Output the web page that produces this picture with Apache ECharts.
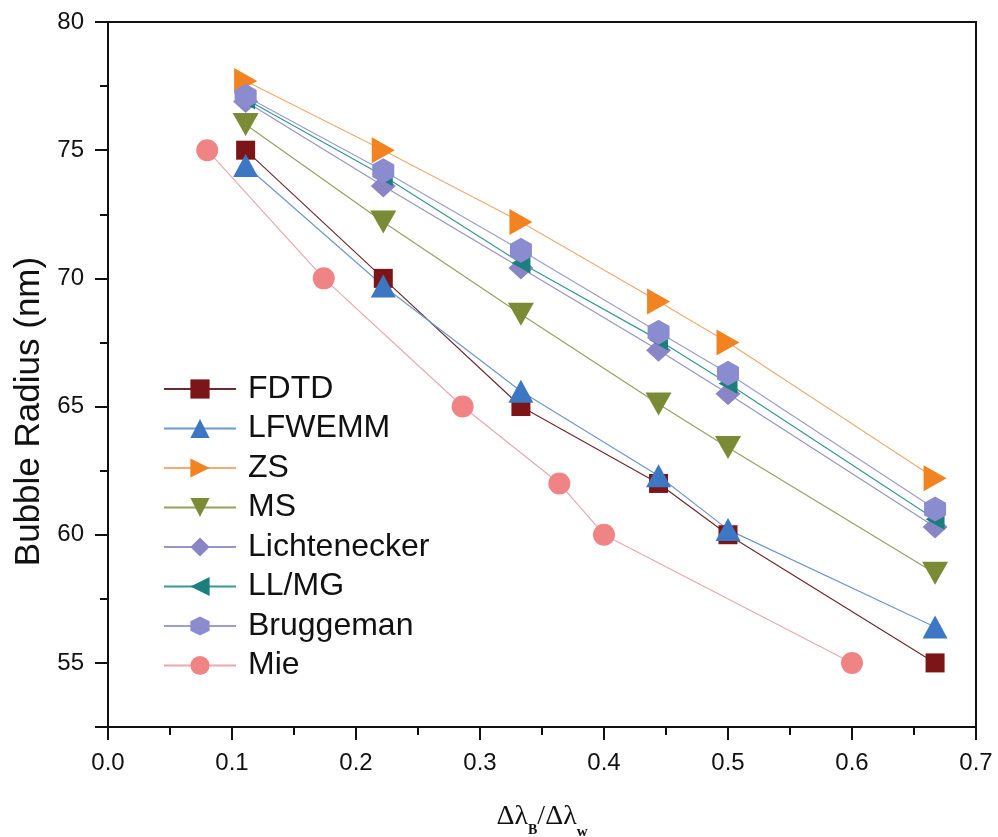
<!DOCTYPE html>
<html>
<head>
<meta charset="utf-8">
<script src="https://cdn.jsdelivr.net/npm/echarts@6/dist/echarts.min.js"></script>
<style>
  html, body { margin: 0; padding: 0; background: #fff; }
  #chart { width: 998px; height: 837px; }
</style>
</head>
<body>
<div id="chart"></div>
<script>
// Δλ_B/Δλ_w positions shared by the effective-medium models and FDTD
const ratio = [0.111, 0.222, 0.333, 0.444, 0.5, 0.667];
// Mie theory is evaluated at its own ratios
const mieRatio = [0.08, 0.174, 0.286, 0.364, 0.4, 0.6];

// Bubble radius (nm) for each method
const fdtd         = [75, 70, 65, 62, 60, 55];
const lfwemm       = [74.4, 69.7, 65.6, 62.3, 60.2, 56.4];
const zs           = [77.7, 75.0, 72.2, 69.1, 67.5, 62.2];
const ms           = [76.0, 72.2, 68.6, 65.1, 63.4, 58.5];
const lichtenecker = [76.9, 73.6, 70.4, 67.2, 65.5, 60.3];
const llmg         = [77.0, 74.0, 70.6, 67.6, 65.9, 60.6];
const bruggeman    = [77.1, 74.2, 71.1, 67.9, 66.3, 61.0];
const mie          = [75, 70, 65, 62, 60, 55];

// Axis ticks
const xTicks = [0.0, 0.1, 0.2, 0.3, 0.4, 0.5, 0.6, 0.7];
const yTicks = [55, 60, 65, 70, 75, 80];

const SANS = '"Liberation Sans", Arial, Helvetica, sans-serif';
const SERIF = '"Liberation Serif", "Times New Roman", serif';
const HEXAGON = 'path://M0,-1 L0.866,-0.5 L0.866,0.5 L0,1 L-0.866,0.5 L-0.866,-0.5 Z';

function pairs(xs, ys) { return xs.map((x, i) => [x, ys[i]]); }

function makeSeries(name, xs, ys, marker, line, symbol, size, rotate) {
  return {
    name: name,
    type: 'line',
    data: pairs(xs, ys),
    symbol: symbol,
    symbolSize: size,
    symbolRotate: rotate || 0,
    showSymbol: true,
    lineStyle: { color: line, width: 1.2 },
    itemStyle: { color: marker, borderWidth: 0 },
    emphasis: { disabled: true }
  };
}

const series = [
  makeSeries('FDTD', ratio, fdtd, '#7b1518', '#6e2a2e', 'rect', [19, 19]),
  makeSeries('LFWEMM', ratio, lfwemm, '#3b77c2', '#6f98cc', 'triangle', [25, 23]),
  makeSeries('ZS', ratio, zs, '#f28321', '#f0ac72', 'triangle', [26, 23], -90),
  makeSeries('MS', ratio, ms, '#7a8a35', '#98a062', 'triangle', [26, 23], 180),
  makeSeries('Lichtenecker', ratio, lichtenecker, '#8a86c6', '#9794c6', 'diamond', [25, 23]),
  makeSeries('LL/MG', ratio, llmg, '#1a7f7d', '#3a9795', 'triangle', [21, 19], 90),
  makeSeries('Bruggeman', ratio, bruggeman, '#8b8bd0', '#9d9dcf', HEXAGON, [22, 25]),
  makeSeries('Mie', mieRatio, mie, '#f08484', '#e9a9ae', 'circle', 22)
];

const chart = echarts.init(document.getElementById('chart'), null, { renderer: 'canvas' });

chart.setOption({
  animation: false,
  backgroundColor: '#ffffff',
  grid: {
    left: 108, top: 22, right: 22, bottom: 110,
    outerBoundsMode: 'none',
    containLabel: false,
    show: true, borderColor: '#111', borderWidth: 2, backgroundColor: 'transparent'
  },
  legend: {
    orient: 'vertical',
    left: 163,
    top: 373,
    padding: 0,
    itemWidth: 72,
    itemHeight: 24,
    itemGap: 7.5,
    selectedMode: false,
    textStyle: { fontFamily: SANS, fontSize: 32, lineHeight: 29, color: '#111', padding: [0, 0, 0, 7] },
    data: series.map(s => s.name)
  },
  xAxis: {
    type: 'value',
    min: xTicks[0],
    max: xTicks[xTicks.length - 1],
    interval: 0.1,
    name: '{a|Δλ}{b|B}{a|/Δλ}{c|w}',
    nameLocation: 'middle',
    nameGap: 66,
    nameTextStyle: {
      rich: {
        a: { fontFamily: SERIF, fontSize: 28, color: '#111' },
        b: { fontFamily: SERIF, fontSize: 14, fontWeight: 'bold', color: '#111', padding: [28, 0, 0, 0] },
        c: { fontFamily: SERIF, fontSize: 15, fontWeight: 'bold', color: '#111', padding: [32, 0, 0, 0] }
      }
    },
    axisLine: { show: true, onZero: false, lineStyle: { color: '#111', width: 2 } },
    axisTick: { show: true, length: 13, lineStyle: { color: '#111', width: 2 } },
    minorTick: { show: true, splitNumber: 2, length: 8, lineStyle: { color: '#111', width: 2 } },
    splitLine: { show: false },
    minorSplitLine: { show: false },
    axisLabel: {
      margin: 24,
      fontFamily: SANS, fontSize: 24, color: '#111',
      formatter: v => v.toFixed(1)
    }
  },
  yAxis: [
    {
      type: 'value',
      min: 52.5,
      max: yTicks[yTicks.length - 1],
      interval: 2.5,
      name: 'Bubble Radius (nm)',
      nameLocation: 'middle',
      nameGap: 60,
      nameTextStyle: { fontFamily: SANS, fontSize: 35, color: '#111', padding: [0, 74, 0, 0] },
      axisLine: { show: true, onZero: false, lineStyle: { color: '#111', width: 2 } },
      axisTick: { show: true, length: 8, lineStyle: { color: '#111', width: 2 } },
      splitLine: { show: false },
      axisLabel: {
        margin: 24,
        fontFamily: SANS, fontSize: 24, color: '#111',
        formatter: v => (yTicks.indexOf(v) >= 0 ? String(v) : '')
      }
    },
    {
      // longer major ticks every 5 nm, counted down from the top
      type: 'value',
      inverse: true,
      min: 0,
      max: 27.5,
      interval: 5,
      position: 'left',
      axisLine: { show: false, onZero: false },
      axisTick: { show: true, length: 13, lineStyle: { color: '#111', width: 2 } },
      axisLabel: { show: false },
      splitLine: { show: false }
    }
  ],
  series: series
});
</script>
</body>
</html>
